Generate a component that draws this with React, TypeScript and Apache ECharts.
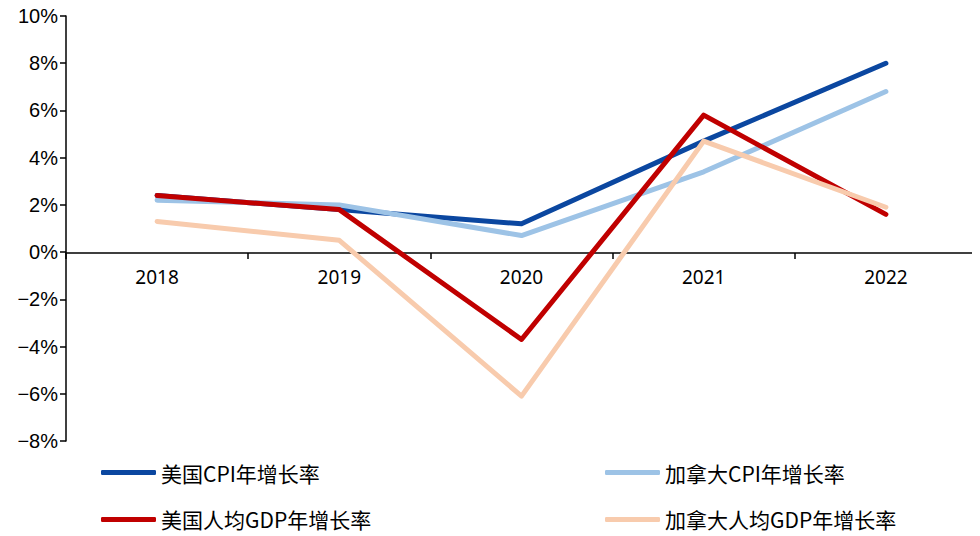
import React, { useEffect, useRef } from "react";
import * as echarts from "echarts";

const years = ["2018", "2019", "2020", "2021", "2022"];
const usCpi = [2.4, 1.8, 1.2, 4.7, 8.0];
const caCpi = [2.2, 2.0, 0.7, 3.4, 6.8];
const usGdp = [2.4, 1.8, -3.7, 5.8, 1.6];
const caGdp = [1.3, 0.5, -6.1, 4.7, 1.9];
const seriesNames = ["美国CPI年增长率", "加拿大CPI年增长率", "美国人均GDP年增长率", "加拿大人均GDP年增长率"];
const colors = ["#0B47A0", "#9DC3E6", "#C00000", "#F8CBAD"];

export default function App() {
  const ref = useRef<HTMLDivElement>(null);
  useEffect(() => {
    if (!ref.current) return;
    const chart = echarts.init(ref.current, undefined, { renderer: "svg" });
    const data = [usCpi, caCpi, usGdp, caGdp];
    const legendText = {
      fontFamily: "Noto Sans CJK SC",
      fontSize: 21,
      color: "#000",
    };
    const legendBase = {
      top: 457,
      orient: "vertical",
      itemGap: 26,
      itemWidth: 55,
      itemHeight: 5,
      icon: "roundRect",
      textStyle: legendText,
    };
    chart.setOption({
      animation: false,
      backgroundColor: "#fff",
      grid: { left: 66, right: 3, top: 16, bottom: 95 },
      legend: [
        { ...legendBase, left: 96, data: [seriesNames[0], seriesNames[2]] },
        { ...legendBase, left: 600, data: [seriesNames[1], seriesNames[3]] },
      ],
      xAxis: {
        type: "category",
        data: years,
        boundaryGap: true,
        offset: -188,
        axisLine: { onZero: false, lineStyle: { color: "#000", width: 1.5 } },
        axisTick: { show: true, length: 6, lineStyle: { color: "#000", width: 1.5 } },
        axisLabel: {
          margin: 14,
          fontFamily: "Noto Sans",
          fontSize: 19,
          color: "#000",
        },
        splitLine: { show: false },
      },
      yAxis: {
        type: "value",
        min: -8,
        max: 10,
        interval: 2,
        axisLine: { show: true, lineStyle: { color: "#000", width: 1.5 } },
        axisTick: { show: true, length: 6, lineStyle: { color: "#000", width: 1.5 } },
        axisLabel: {
          margin: 8,
          fontFamily: "Liberation Sans",
          fontSize: 20,
          color: "#000",
          formatter: (v: number) => (v < 0 ? "\u2212" + Math.abs(v) + "%" : v + "%"),
        },
        splitLine: { show: false },
      },
      series: seriesNames.map((name, i) => ({
        name,
        type: "line",
        data: data[i],
        symbol: "none",
        color: colors[i],
        lineStyle: { color: colors[i], width: 5, cap: "round", join: "round" },
      })),
    });
    return () => chart.dispose();
  }, []);
  return <div ref={ref} style={{ width: 980, height: 536, marginLeft: -8, marginTop: -8 }} />;
}
